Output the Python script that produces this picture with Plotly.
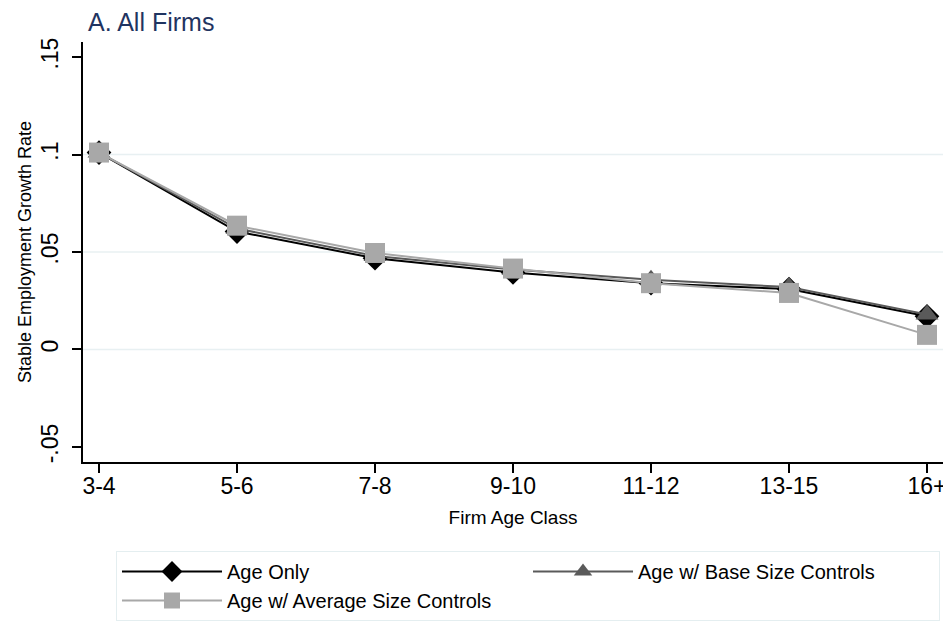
import plotly.graph_objects as go

categories = ["3-4", "5-6", "7-8", "9-10", "11-12", "13-15", "16+"]
age_only = [0.101, 0.0605, 0.0468, 0.0395, 0.0340, 0.0310, 0.0170]
base_size = [0.101, 0.0620, 0.0480, 0.0410, 0.0358, 0.0320, 0.0180]
avg_size = [0.101, 0.0635, 0.0495, 0.0415, 0.0340, 0.0290, 0.0075]
ytick_vals = [-0.05, 0, 0.05, 0.1, 0.15]
ytick_text = ["-.05", "0", ".05", ".1", ".15"]
grid_vals = [0, 0.05, 0.1]

xpos = list(range(len(categories)))
font = "Liberation Sans, Arial, Helvetica, sans-serif"

# page body adds an 8px offset; figure is sized so the picture lines up
W, H = 943, 613
L, T, R, B = 75, 34, 8, 159
plot_w = W - L - R
plot_h = H - T - B

fig = go.Figure()
fig.add_trace(go.Scatter(x=xpos, y=age_only, mode="lines+markers", name="Age Only",
                         line=dict(color="black", width=2),
                         marker=dict(symbol="diamond", size=19, color="black")))
fig.add_trace(go.Scatter(x=xpos, y=base_size, mode="lines+markers", name="Age w/ Base Size Controls",
                         line=dict(color="#5a5a5a", width=2),
                         marker=dict(symbol="triangle-up", size=20, color="#5a5a5a")))
fig.add_trace(go.Scatter(x=xpos, y=avg_size, mode="lines+markers", name="Age w/ Average Size Controls",
                         line=dict(color="#a8a8a8", width=2),
                         marker=dict(symbol="square", size=20, color="#a8a8a8")))

for g in grid_vals:
    fig.add_shape(type="line", xref="paper", x0=0, x1=1, yref="y", y0=g, y1=g,
                  line=dict(color="#e8f0f2", width=1.5), layer="below")

fig.update_layout(
    width=W, height=H,
    margin=dict(l=L, r=R, t=T, b=B, autoexpand=False),
    paper_bgcolor="white", plot_bgcolor="white",
    font=dict(family=font, color="black"),
    title=dict(text="A. All Firms", x=80 / W, xanchor="left", y=1 - 14 / H, yanchor="middle",
               font=dict(size=25, color="#1f3461", family=font)),
    xaxis=dict(range=[-0.116, 6.116], tickvals=xpos, ticktext=categories, automargin=False,
               showgrid=False, zeroline=False, showline=True, linecolor="black", linewidth=1.5,
               ticks="outside", ticklen=9, tickcolor="black", tickwidth=1.5,
               tickfont=dict(size=23), ticklabelstandoff=-6,
               title=dict(text="Firm Age Class", font=dict(size=19), standoff=12)),
    yaxis=dict(range=[-0.0577, 0.1577], tickvals=ytick_vals, ticktext=ytick_text, automargin=False,
               showgrid=False, zeroline=False, showline=True, linecolor="black", linewidth=1.5,
               ticks="outside", ticklen=9, tickcolor="black", tickwidth=1.5,
               tickangle=-90, tickfont=dict(size=23), ticklabelstandoff=5,
               title=dict(text="Stable Employment Growth Rate", font=dict(size=18), standoff=1)),
    legend=dict(orientation="h", x=(108 - L) / plot_w, xanchor="left",
                y=-(543 - (T + plot_h)) / plot_h, yanchor="top",
                entrywidth=296, entrywidthmode="pixels",
                bgcolor="white", bordercolor="#e4eef0", borderwidth=1,
                font=dict(size=20), itemwidth=100, traceorder="normal", tracegroupgap=0),
)

fig.write_html("out.html")
